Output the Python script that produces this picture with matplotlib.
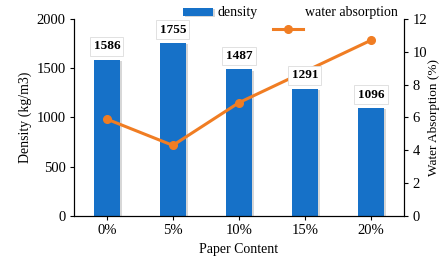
import numpy as np
import matplotlib
matplotlib.use("Agg")
import matplotlib.pyplot as plt
import matplotlib.patheffects as pe

plt.rcParams['font.family'] = ['Liberation Serif', 'DejaVu Serif']

# data
content = ['0%', '5%', '10%', '15%', '20%']
density = [1586, 1755, 1487, 1291, 1096]
absorption = [5.9, 4.3, 6.9, 8.8, 10.7]

fig = plt.figure(figsize=(4.42, 2.59), dpi=100)
ax = fig.add_axes([0.167, 0.166, 0.747, 0.761])
x = np.arange(len(content))

bars = ax.bar(x, density, width=0.4, color='#1671c8', label='density', zorder=2,
              path_effects=[pe.SimplePatchShadow(offset=(1.5, -1), shadow_rgbFace='#b0b0b0', alpha=0.5), pe.Normal()])

ax.set_xlim(-0.5, 4.5)
ax.set_ylim(0, 2000)
ax.set_yticks([0, 500, 1000, 1500, 2000])
ax.set_xticks(x)
ax.set_xticklabels(content)
ax.set_ylabel('Density (kg/m3)', fontsize=10, labelpad=3)
ax.set_xlabel('Paper Content', fontsize=10, labelpad=4)
ax.tick_params(labelsize=10.5, length=3, width=0.8, pad=3)
ax.spines['top'].set_visible(False)

ax2 = ax.twinx()
line, = ax2.plot(x, absorption, color='#f07d23', lw=2.2, marker='o', ms=5.5, label='water absorption', zorder=3)
ax2.set_ylim(0, 12)
ax2.set_yticks([0, 2, 4, 6, 8, 10, 12])
ax2.set_ylabel('Water Absorption (%)', fontsize=9.5, labelpad=1)
ax2.tick_params(labelsize=10.5, length=3, width=0.8, pad=3)
ax2.spines['top'].set_visible(False)

# value labels above the bars, drawn over the line
for xi, d in zip(x, density):
    ax2.text(xi, d + 135, str(d), transform=ax.transData, ha='center', va='center',
             fontsize=9.5, fontweight='bold', zorder=5,
             bbox=dict(boxstyle='square,pad=0.25', fc='white', ec='#dcdcdc', lw=0.6))

leg1 = ax2.legend([bars], ['density'], loc='center left', bbox_to_anchor=(0.33, 1.03),
                  frameon=False, fontsize=10, handlelength=2.2, handleheight=0.5,
                  handletextpad=0.3, borderpad=0, borderaxespad=0)
ax2.add_artist(leg1)
ax2.text(0.70, 1.03, 'water absorption', transform=ax2.transAxes, fontsize=10,
         ha='left', va='center')
ax2.legend([line], [''], loc='center left', bbox_to_anchor=(0.603, 0.944),
           frameon=False, fontsize=10, handlelength=2.2, handletextpad=0,
           borderpad=0, borderaxespad=0)

fig.savefig('out.png', dpi=100)
